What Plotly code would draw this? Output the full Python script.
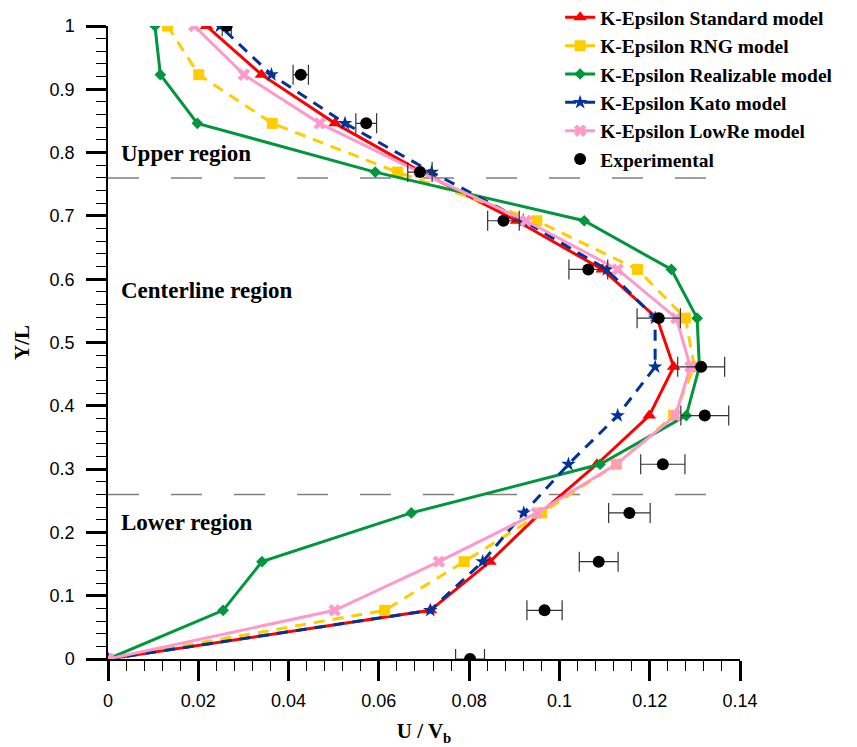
import plotly.graph_objects as go

# ---- data ----
y_over_L = [0, 0.0769, 0.1538, 0.2308, 0.3077, 0.3846, 0.4615, 0.5385,
            0.6154, 0.6923, 0.7692, 0.8462, 0.9231, 1.0]

u_standard = [0, 0.0714, 0.0846, 0.0958, 0.1083, 0.1199, 0.1253, 0.1216,
              0.1095, 0.0905, 0.0695, 0.0503, 0.0340, 0.0218]
u_rng = [0, 0.0613, 0.0789, 0.0961, 0.1126, 0.1253, 0.1299, 0.1279,
         0.1173, 0.0950, 0.0641, 0.0364, 0.0201, 0.0132]
u_realizable = [0, 0.0255, 0.0341, 0.0672, 0.1090, 0.1281, 0.1310, 0.1305,
                0.1248, 0.1055, 0.0592, 0.0198, 0.0116, 0.0104]
u_kato = [0, 0.0714, 0.0830, 0.0921, 0.1020, 0.1129, 0.1212, 0.1212,
          0.1105, 0.0920, 0.0717, 0.0525, 0.0362, 0.0248]
u_lowre = [0, 0.0502, 0.0733, 0.0950, 0.1126, 0.1257, 0.1290, 0.1259,
           0.1129, 0.0926, 0.0690, 0.0469, 0.0301, 0.0191]
u_exp = [0.0802, 0.0967, 0.1087, 0.1155, 0.1229, 0.1322, 0.1314, 0.1220,
         0.1064, 0.0876, 0.0691, 0.0572, 0.0427, 0.0263]
u_exp_err = [0.0032, 0.0039, 0.0043, 0.0046, 0.0049, 0.0053, 0.0052, 0.0048,
             0.0043, 0.0035, 0.0027, 0.0023, 0.0017, 0.0010]

region_bounds = [0.26, 0.76]
region_line_end = 0.133
region_labels = ["Upper region", "Centerline region", "Lower region"]
region_label_y = [0.798, 0.582, 0.216]

x_ticks = [0, 0.02, 0.04, 0.06, 0.08, 0.10, 0.12, 0.14]
x_tick_labels = ["0", "0.02", "0.04", "0.06", "0.08", "0.1", "0.12", "0.14"]
y_ticks = [0, 0.1, 0.2, 0.3, 0.4, 0.5, 0.6, 0.7, 0.8, 0.9, 1]
y_tick_labels = ["0", "0.1", "0.2", "0.3", "0.4", "0.5", "0.6", "0.7", "0.8", "0.9", "1"]

SERIF = "Liberation Serif, Times New Roman, serif"
SANS = "Liberation Sans, Arial, sans-serif"

fig = go.Figure()

fig.add_trace(go.Scatter(
    x=u_standard, y=y_over_L, mode="lines+markers", name="K-Epsilon Standard model",
    line=dict(color="#FF0000", width=3),
    marker=dict(symbol="triangle-up", size=12, color="#FF0000")))
fig.add_trace(go.Scatter(
    x=u_rng, y=y_over_L, mode="lines+markers", name="K-Epsilon RNG model",
    line=dict(color="#FFCC00", width=3, dash="11px,8px"),
    marker=dict(symbol="square", size=11, color="#FFCC00")))
fig.add_trace(go.Scatter(
    x=u_realizable, y=y_over_L, mode="lines+markers", name="K-Epsilon Realizable model",
    line=dict(color="#00963C", width=3),
    marker=dict(symbol="diamond", size=9, color="#00963C")))
fig.add_trace(go.Scatter(
    x=u_kato, y=y_over_L, mode="lines+markers", name="K-Epsilon Kato model",
    line=dict(color="#00339A", width=3, dash="11px,8px"),
    marker=dict(symbol="star", size=11, color="#00339A")))
fig.add_trace(go.Scatter(
    x=u_lowre, y=y_over_L, mode="lines+markers", name="K-Epsilon LowRe model",
    line=dict(color="#FF99CC", width=3),
    marker=dict(symbol="x", size=11, color="#FF99CC")))
fig.add_trace(go.Scatter(
    x=u_exp, y=y_over_L, mode="markers", name="Experimental",
    marker=dict(symbol="circle", size=12, color="black"),
    error_x=dict(type="data", array=u_exp_err, symmetric=True,
                 color="#333333", thickness=1.2, width=10)))

shapes = []
for yb in region_bounds:
    shapes.append(dict(type="line", xref="x", yref="y", x0=0, x1=region_line_end,
                       y0=yb, y1=yb, line=dict(color="#808080", width=1.5, dash="31px,32px"),
                       layer="below"))

annotations = []
for txt, yl in zip(region_labels, region_label_y):
    annotations.append(dict(x=0.0024, y=yl, xref="x", yref="y", text=txt,
                            showarrow=False, xanchor="left", yanchor="middle",
                            font=dict(family=SERIF, size=23, color="black", weight="bold")))

fig.update_layout(
    width=857, height=747,
    margin=dict(l=108, r=117, t=26, b=88, autoexpand=False),
    paper_bgcolor="white", plot_bgcolor="white",
    shapes=shapes, annotations=annotations,
    showlegend=True,
    legend=dict(x=0.7154, y=1.044, xanchor="left", yanchor="top",
                bgcolor="rgba(0,0,0,0)", borderwidth=0,
                font=dict(family=SERIF, size=19.5, color="black", weight="bold"),
                tracegroupgap=0),
    xaxis=dict(range=[0, 0.14], tickvals=x_ticks, ticktext=x_tick_labels,
               showgrid=False, zeroline=False, showline=True, linecolor="black",
               linewidth=2, ticks="outside", ticklen=20, tickwidth=2.5, tickcolor="black",
               ticklabelstandoff=4,
               tickfont=dict(family=SANS, size=18, color="black"),
               minor=dict(dtick=0.004, tick0=0, ticks="outside", ticklen=10,
                          tickwidth=1, tickcolor="black", showgrid=False),
               title=dict(text="U / V<sub>b</sub>", standoff=14,
                          font=dict(family=SERIF, size=21, color="black", weight="bold"))),
    yaxis=dict(range=[0, 1], tickvals=y_ticks, ticktext=y_tick_labels,
               showgrid=False, zeroline=False, showline=True, linecolor="black",
               linewidth=1.5, ticks="outside", ticklen=20, tickwidth=2.5, tickcolor="black",
               ticklabelstandoff=8,
               tickfont=dict(family=SANS, size=18, color="black"),
               minor=dict(dtick=0.02, tick0=0, ticks="outside", ticklen=10,
                          tickwidth=1, tickcolor="black", showgrid=False),
               title=dict(text="Y/L", standoff=14,
                          font=dict(family=SERIF, size=21, color="black", weight="bold"))),
)

fig.write_html("out.html")
